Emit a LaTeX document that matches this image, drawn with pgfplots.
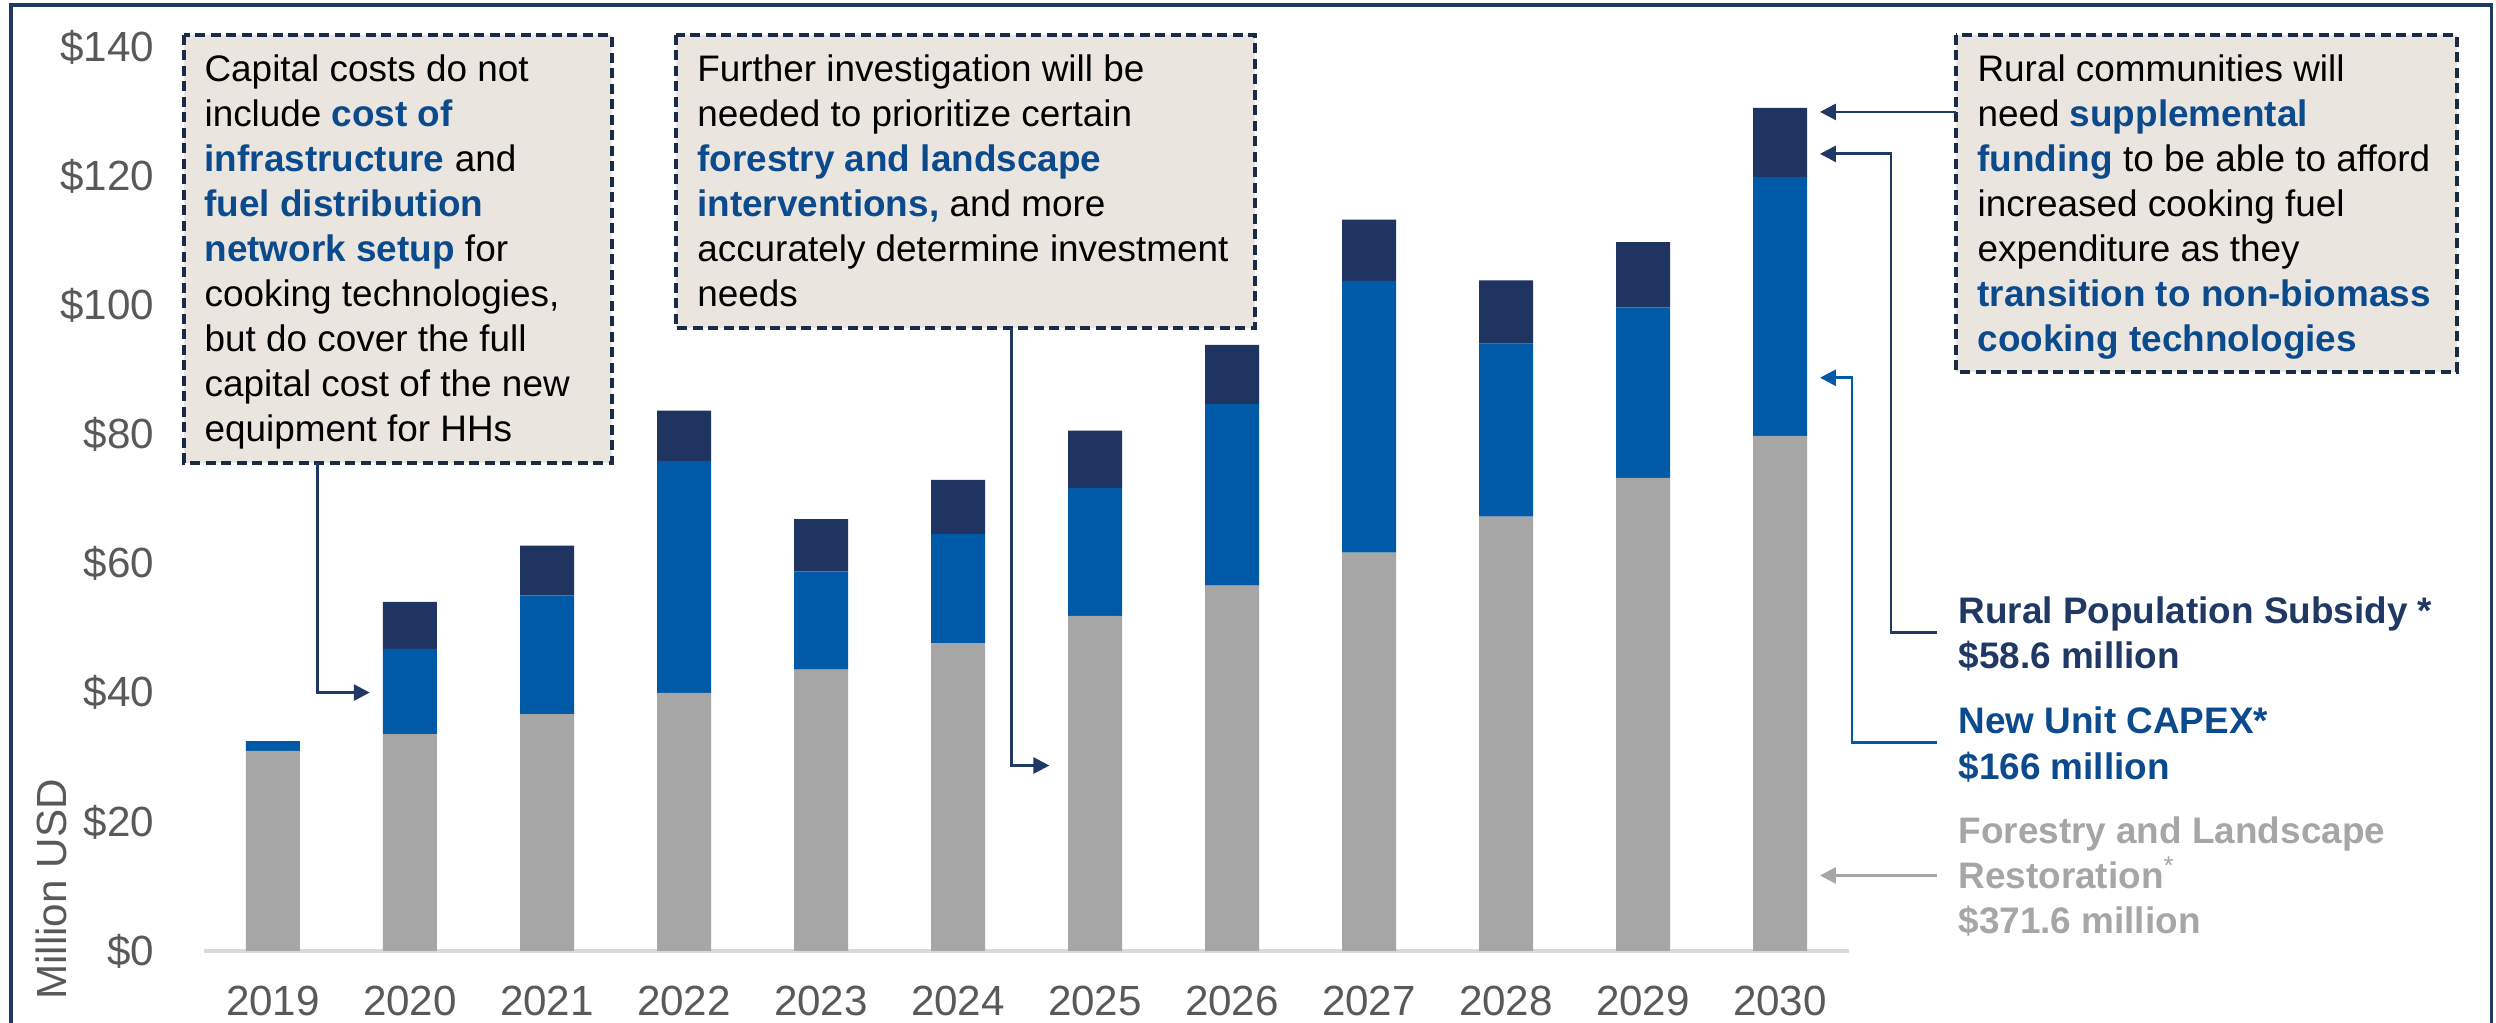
\documentclass[border=0pt]{standalone}
\usepackage{fontspec}
\setmainfont{Liberation Sans}
\usepackage{pgfplots}
\pgfplotsset{compat=1.18}
\usetikzlibrary{arrows.meta}
\definecolor{cgray}{HTML}{A6A6A6}
\definecolor{cblue}{HTML}{005AA8}
\definecolor{cnavy}{HTML}{1F3461}
\definecolor{tblue}{HTML}{0B4A8C}
\definecolor{tnavy}{HTML}{1F3864}
\definecolor{boxfill}{HTML}{EAE6DF}
\definecolor{boxedge}{HTML}{1B2A47}
\definecolor{frm}{HTML}{203864}
\definecolor{ticklab}{HTML}{595959}
\definecolor{baseln}{HTML}{D9D9D9}
\newcommand\fs{\fontsize{10.5}{12.8}\selectfont}
\newcommand\hl[1]{\textbf{\color{tblue}#1}}
\begin{document}
\begin{tikzpicture}
\useasboundingbox (0,0) rectangle (24.96,10.23);
\fill[white] (0,0) rectangle (24.96,10.23);
\begin{axis}[
  at={(2.045cm,0.72cm)}, anchor=south west,
  scale only axis, width=16.44cm, height=9.037cm,
  ybar stacked, bar width=0.54cm,
  xmin=-0.5, xmax=11.5, ymin=0, ymax=140,
  xtick={0,1,2,3,4,5,6,7,8,9,10,11},
  xticklabels={2019,2020,2021,2022,2023,2024,2025,2026,2027,2028,2029,2030},
  ytick={0,20,40,60,80,100,120,140},
  yticklabels={\$0,\$20,\$40,\$60,\$80,\$100,\$120,\$140},
  axis line style={draw=none}, major tick length=0pt,
  tick label style={font=\fontsize{12}{14}\selectfont, text=ticklab},
  yticklabel style={anchor=east, inner sep=0pt, xshift=-0.495cm},
  xticklabel style={anchor=north, inner sep=0pt, yshift=-0.34cm},
  clip=false,
]
\addplot[fill=cgray, draw=none] coordinates {(0,31.0) (1,33.6) (2,36.7) (3,40.0) (4,43.6) (5,47.7) (6,51.9) (7,56.6) (8,61.7) (9,67.3) (10,73.3) (11,79.8)};
\addplot[fill=cblue, draw=none] coordinates {(0,1.5) (1,13.2) (2,18.4) (3,35.9) (4,15.2) (5,16.9) (6,19.8) (7,28.1) (8,42.1) (9,26.8) (10,26.4) (11,40.1)};
\addplot[fill=cnavy, draw=none] coordinates {(0,0) (1,7.3) (2,7.7) (3,7.8) (4,8.1) (5,8.4) (6,8.9) (7,9.2) (8,9.5) (9,9.8) (10,10.1) (11,10.7)};
\draw[baseln, line width=0.9pt] (axis cs:-0.5,0) -- (axis cs:11.5,0);
\end{axis}
\begin{scope}[x=0.01cm, y=-0.01cm, yshift=10.23cm]
% outer frame
\draw[frm, line width=1pt] (11,1100) -- (11,5) -- (2493,5) -- (2493,1100);
% y label
\node[rotate=90, inner sep=0, text=ticklab, font=\fontsize{12}{14}\selectfont] at (51,890) {Million USD};
% boxes
\begin{scope}[boxedge, line width=1.1pt, dash pattern=on 0.1cm off 0.055cm]
\draw[fill=boxfill] (184,35) rectangle (612,463);
\draw[fill=boxfill] (676,35) rectangle (1256,328);
\draw[fill=boxfill] (1957,35) rectangle (2458,372);
\end{scope}
% box texts and legend
\begin{scope}[every node/.style={anchor=base west, inner sep=0, font=\fs}]
\node at (204,82) {Capital costs do not};
\node at (204,127) {include \hl{cost of}};
\node at (204,172) {\hl{infrastructure} and};
\node at (204,217) {\hl{fuel distribution}};
\node at (204,262) {\hl{network setup} for};
\node at (204,307) {cooking technologies,};
\node at (204,352) {but do cover the full};
\node at (204,397) {capital cost of the new};
\node at (204,442) {equipment for HHs};
\node at (697,82) {Further investigation will be};
\node at (697,127) {needed to prioritize certain};
\node at (697,172) {\hl{forestry and landscape}};
\node at (697,217) {\hl{interventions,} and more};
\node at (697,262) {accurately determine investment};
\node at (697,307) {needs};
\node at (1978,82) {Rural communities will};
\node at (1978,127) {need \hl{supplemental}};
\node at (1978,172) {\hl{funding} to be able to afford};
\node at (1978,217) {increased cooking fuel};
\node at (1978,262) {expenditure as they};
\node at (1978,307) {\hl{transition to non-biomass}};
\node at (1978,352) {\hl{cooking technologies}};
\node[text=tnavy] at (1959,624) {\textbf{Rural Population Subsidy *}};
\node[text=tnavy] at (1959,669) {\textbf{\$58.6 million}};
\node[text=tblue] at (1959,734) {\textbf{New Unit CAPEX*}};
\node[text=tblue] at (1959,780) {\textbf{\$166 million}};
\node[text=cgray] at (1959,844) {\textbf{Forestry and Landscape}};
\node[text=cgray] at (1959,889) {\textbf{Restoration}\textsuperscript{*}};
\node[text=cgray] at (1959,934) {\textbf{\$371.6 million}};
\end{scope}
% arrows
\begin{scope}[line width=0.8pt, -{Triangle[length=0.16cm, width=0.16cm]}]
\draw[tnavy] (318,463) -- (318,693) -- (370,693);
\draw[tnavy] (1012,328) -- (1012,766) -- (1050,766);
\draw[tnavy] (1957,112) -- (1821,112);
\draw[tnavy] (1938,633) -- (1892,633) -- (1892,154) -- (1821,154);
\draw[cblue] (1938,743) -- (1853,743) -- (1853,378) -- (1821,378);
\draw[cgray] (1938,876) -- (1821,876);
\end{scope}
\end{scope}
\end{tikzpicture}
\end{document}
